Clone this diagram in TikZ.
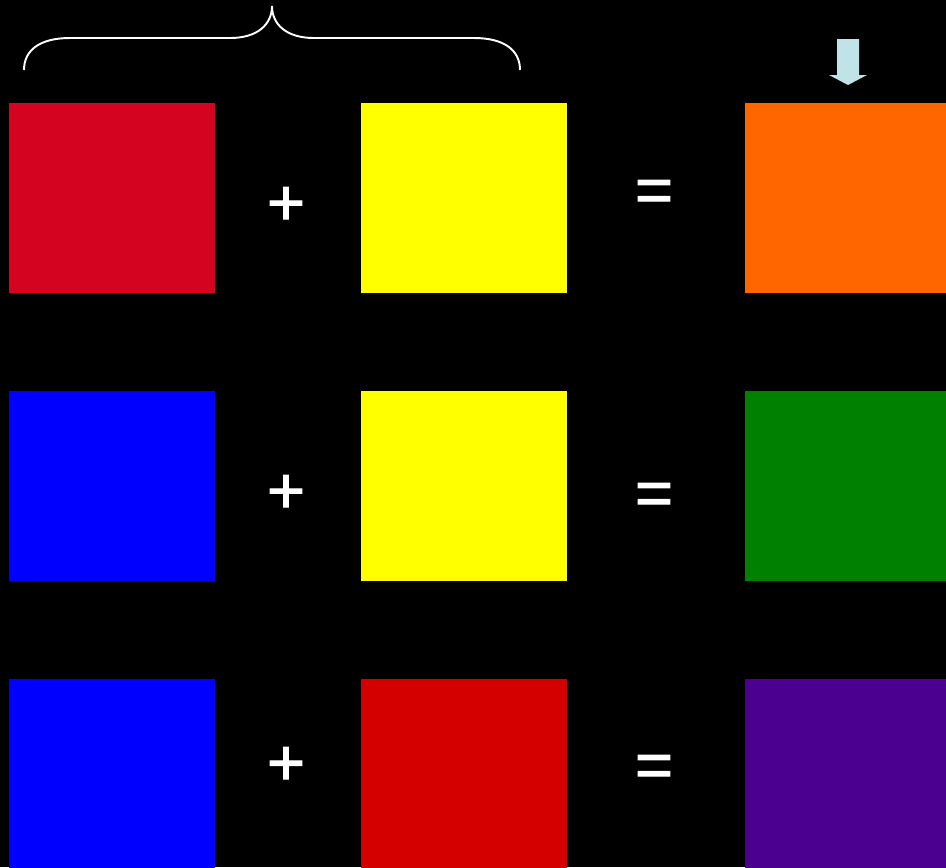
\documentclass[tikz,border=0pt]{standalone}
\usepackage{fontspec}
\setsansfont{Liberation Sans}
\newfontfamily\signfont[FakeBold=1.6]{Liberation Sans}
\usetikzlibrary{positioning}
\definecolor{cred}{HTML}{D40320}
\definecolor{cdeepred}{HTML}{D40000}
\definecolor{cyellow}{HTML}{FFFF00}
\definecolor{corange}{HTML}{FF6600}
\definecolor{cblue}{HTML}{0000FF}
\definecolor{cgreen}{HTML}{008000}
\definecolor{cpurple}{HTML}{4B0090}
\definecolor{cpale}{HTML}{BFE3E6}
\tikzset{
  every picture/.style={font=\sffamily},
  swatch/.style={fill=#1, draw=none, minimum width=4.12cm, minimum height=3.8cm, inner sep=0pt, outer sep=0pt, anchor=north west},
  sign/.style={text=white, inner sep=0pt, font=\signfont\fontsize{37}{37}\selectfont},
  brace/.style={draw=white, line width=1.1pt},
}

\begin{document}
\begin{tikzpicture}[x=0.02cm, y=-0.02cm]
  \fill[black] (0,0) rectangle (946,867);
  \useasboundingbox (0,0) rectangle (946,867);
  % row one: red + yellow = orange
  \node[swatch=cred] (r1a) at (9,103) {};
  \node[swatch=cyellow] (r1b) at (361,103) {};
  \node[swatch=corange] (r1c) at (745,103) {};
  \node[sign] (p1) at (286,206) {+};
  \node[sign] (e1) at (654,196) {=};
  % row two: blue + yellow = green
  \node[swatch=cblue] (r2a) at (9,391) {};
  \node[swatch=cyellow] (r2b) at (361,391) {};
  \node[swatch=cgreen] (r2c) at (745,391) {};
  \node[sign] (p2) at (286,494) {+};
  \node[sign] (e2) at (654,499) {=};
  % row three: blue + red = purple
  \node[swatch=cblue] (r3a) at (9,679) {};
  \node[swatch=cdeepred] (r3b) at (361,679) {};
  \node[swatch=cpurple] (r3c) at (745,679) {};
  \node[sign] (p3) at (286,766) {+};
  \node[sign] (e3) at (654,771) {=};
  % brace over the two mixed colours
  \draw[brace] (24,70) .. controls (24,50) and (40,38) .. (70,38) -- (230,38)
    .. controls (258,38) and (272,24) .. (272,6)
    .. controls (272,24) and (286,38) .. (314,38) -- (474,38)
    .. controls (504,38) and (520,50) .. (520,70);
  % arrow above the result
  \fill[cpale] (837,39) -- (859,39) -- (859,75) -- (867,75) -- (848,85)
    -- (829,75) -- (837,75) -- cycle;
\end{tikzpicture}
\end{document}
